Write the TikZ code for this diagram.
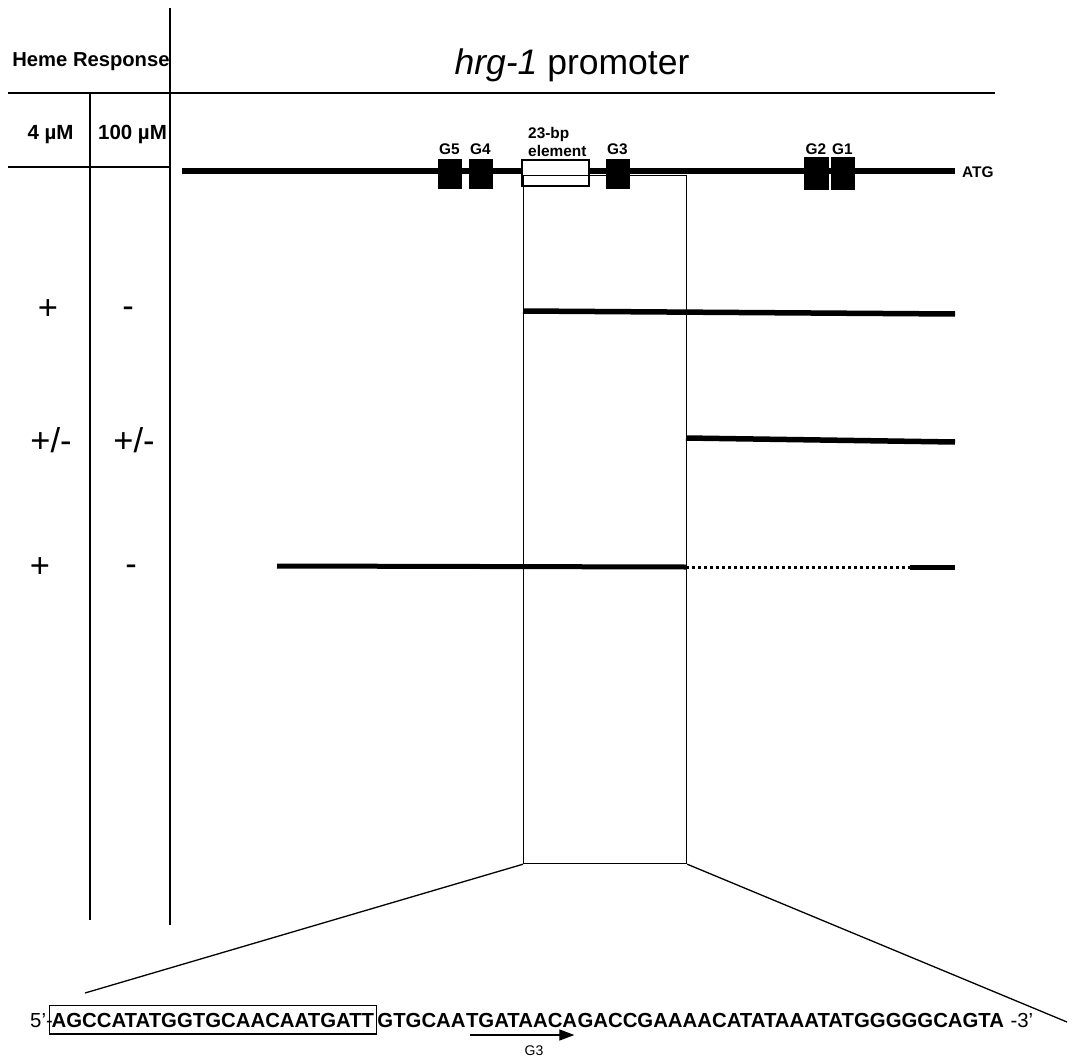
\documentclass[tikz,border=0pt]{standalone}
\usepackage{fontspec}
\setmainfont{Liberation Sans}
\usetikzlibrary{arrows.meta,calc}
\begin{document}
\begin{tikzpicture}[x=1pt,y=-1pt,
  rule/.style={line width=1.3pt},
  dna/.style={line width=5pt},
  gbox/.style={draw, line width=0.8pt, fill=black, inner sep=0pt},
  glab/.style={font=\fontsize{15.4}{15.4}\selectfont\bfseries, inner sep=0pt, anchor=base},
  resp/.style={font=\fontsize{34.5}{34.5}\selectfont, inner sep=0pt, anchor=base},
  hdr/.style={font=\fontsize{20.5}{20.5}\selectfont\bfseries, inner sep=0pt, anchor=base},
  seq/.style={font=\fontsize{20.35}{20.35}\selectfont\bfseries, inner sep=0pt, anchor=base west},
  plain/.style={font=\fontsize{20.35}{20.35}\selectfont, inner sep=0pt, anchor=base west},
]
\useasboundingbox (0,0) rectangle (1079,1062);

% table grid on the left and header rule
\coordinate (colR top) at (170,8);
\coordinate (colR bot) at (170,925);
\coordinate (colM top) at (90,93);
\coordinate (colM bot) at (90,920);
\coordinate (hdrL) at (8,93);
\coordinate (hdrR) at (995,93);
\coordinate (subL) at (8,167);
\coordinate (subR) at (170,167);
\draw[rule] (colR top) -- (colR bot);
\draw[rule] (colM top) -- (colM bot);
\draw[rule] (hdrL) -- (hdrR);
\draw[rule] (subL) -- (subR);

% headers
\node[font=\fontsize{20.2}{20.2}\selectfont\bfseries, inner sep=0pt, anchor=base] (heme) at (91,67) {Heme Response};
\node[hdr] (low) at (50.5,140) {4 µM};
\node[hdr] (high) at (132.5,140) {100 µM};
\node[font=\fontsize{35.5}{35.5}\selectfont, inner sep=0pt, anchor=base] (title) at (572,75) {\textit{hrg-1} promoter};

% response calls
\node[resp] (r1a) at (48,319) {+};
\node[resp] (r1b) at (128,317) {-};
\node[resp] (r2a) at (51,452) {+/-};
\node[resp] (r2b) at (134,452) {+/-};
\node[resp] (r3a) at (40,577) {+};
\node[resp] (r3b) at (131,575) {-};

% full-length promoter
\coordinate (pL) at (182,171);
\coordinate (pR) at (955,171);
\draw[dna] (pL) -- (pR);
\node[gbox, minimum width=23pt, minimum height=29pt] (g5) at (449.5,173.5) {};
\node[gbox, minimum width=23pt, minimum height=29pt] (g4) at (480.5,173.5) {};
\node[gbox, minimum width=23pt, minimum height=29pt] (g3) at (617.5,173.5) {};
\node[gbox, minimum width=24pt, minimum height=32pt] (g2) at (816,173) {};
\node[gbox, minimum width=23pt, minimum height=32pt] (g1) at (842.5,173) {};
\node[draw, line width=1.2pt, fill=white, minimum width=67pt, minimum height=26pt, inner sep=0pt] (elem) at (555.5,173) {};

\node[glab] (l5) at (g5 |- 0,155) {G5};
\node[glab] (l4) at (g4 |- 0,155) {G4};
\node[glab] (l3) at (g3 |- 0,155) {G3};
\node[glab] (l2) at (g2 |- 0,154) {G2};
\node[glab] (l1) at (g1 |- 0,154) {G1};
\node[glab, anchor=base west] (e1) at (528,139) {23-bp};
\node[glab, anchor=base west] (e2) at (528,157) {element};
\node[glab, anchor=base west] (atg) at (962,177.5) {ATG};

% region window carried down to the sequence
\node[draw, line width=1.2pt, minimum width=163pt, minimum height=688pt, inner sep=0pt, anchor=north west] (win) at (523,175) {};

% deletion constructs
\coordinate (c1L) at (523,311);
\coordinate (c1R) at (955,314);
\draw[dna, line width=5.5pt] (c1L) -- (c1R);
\coordinate (c2L) at (686,438);
\coordinate (c2R) at (955,442);
\draw[dna, line width=5.5pt] (c2L) -- (c2R);
\coordinate (c3L) at (277,566);
\coordinate (c3M) at (686,567);
\coordinate (c3N) at (910,567);
\coordinate (c3R) at (955,567);
\draw[dna] (c3L) -- (c3M);
\draw[line width=3pt, dash pattern=on 3pt off 3pt] (c3M) -- (c3N);
\draw[dna] (c3N) -- (c3R);

% sequence of the window
\node[plain] (five) at (30,1027) {5’-};
\node[seq, draw, line width=1.2pt, inner xsep=2.5pt, inner ysep=7pt, text height=14.6pt, text depth=0pt] (box) at (48.5,1027) {AGCCATATGGTGCAACAATGATT};
\node[seq] (s2) at (box.base east) {GTGCAA};
\node[seq] (s3) at (s2.base east) {TGATAACA};
\node[seq] (s4) at (s3.base east) {GACCGAAAACATATAAATATGGGGGCAGTA};
\node[plain] (three) at ($(s4.base east)+(6,0)$) {-3’};

\coordinate (arrS) at ($(s3.base west)+(4,8)$);
\coordinate (arrE) at ($(s3.base east)+(-3,8)$);
\draw[line width=1.2pt, -{Triangle[length=15pt,width=11pt]}] (arrS) -- (arrE);
\node[font=\fontsize{14}{14}\selectfont, inner sep=0pt, anchor=base] (g3lab) at (534,1055) {G3};

% flanking lines from the window to the sequence
\coordinate (fanL) at (85,993);
\coordinate (fanR) at (1067,1022);
\draw[rule] (win.south west) -- (fanL);
\draw[rule] (win.south east) -- (fanR);
\end{tikzpicture}
\end{document}
